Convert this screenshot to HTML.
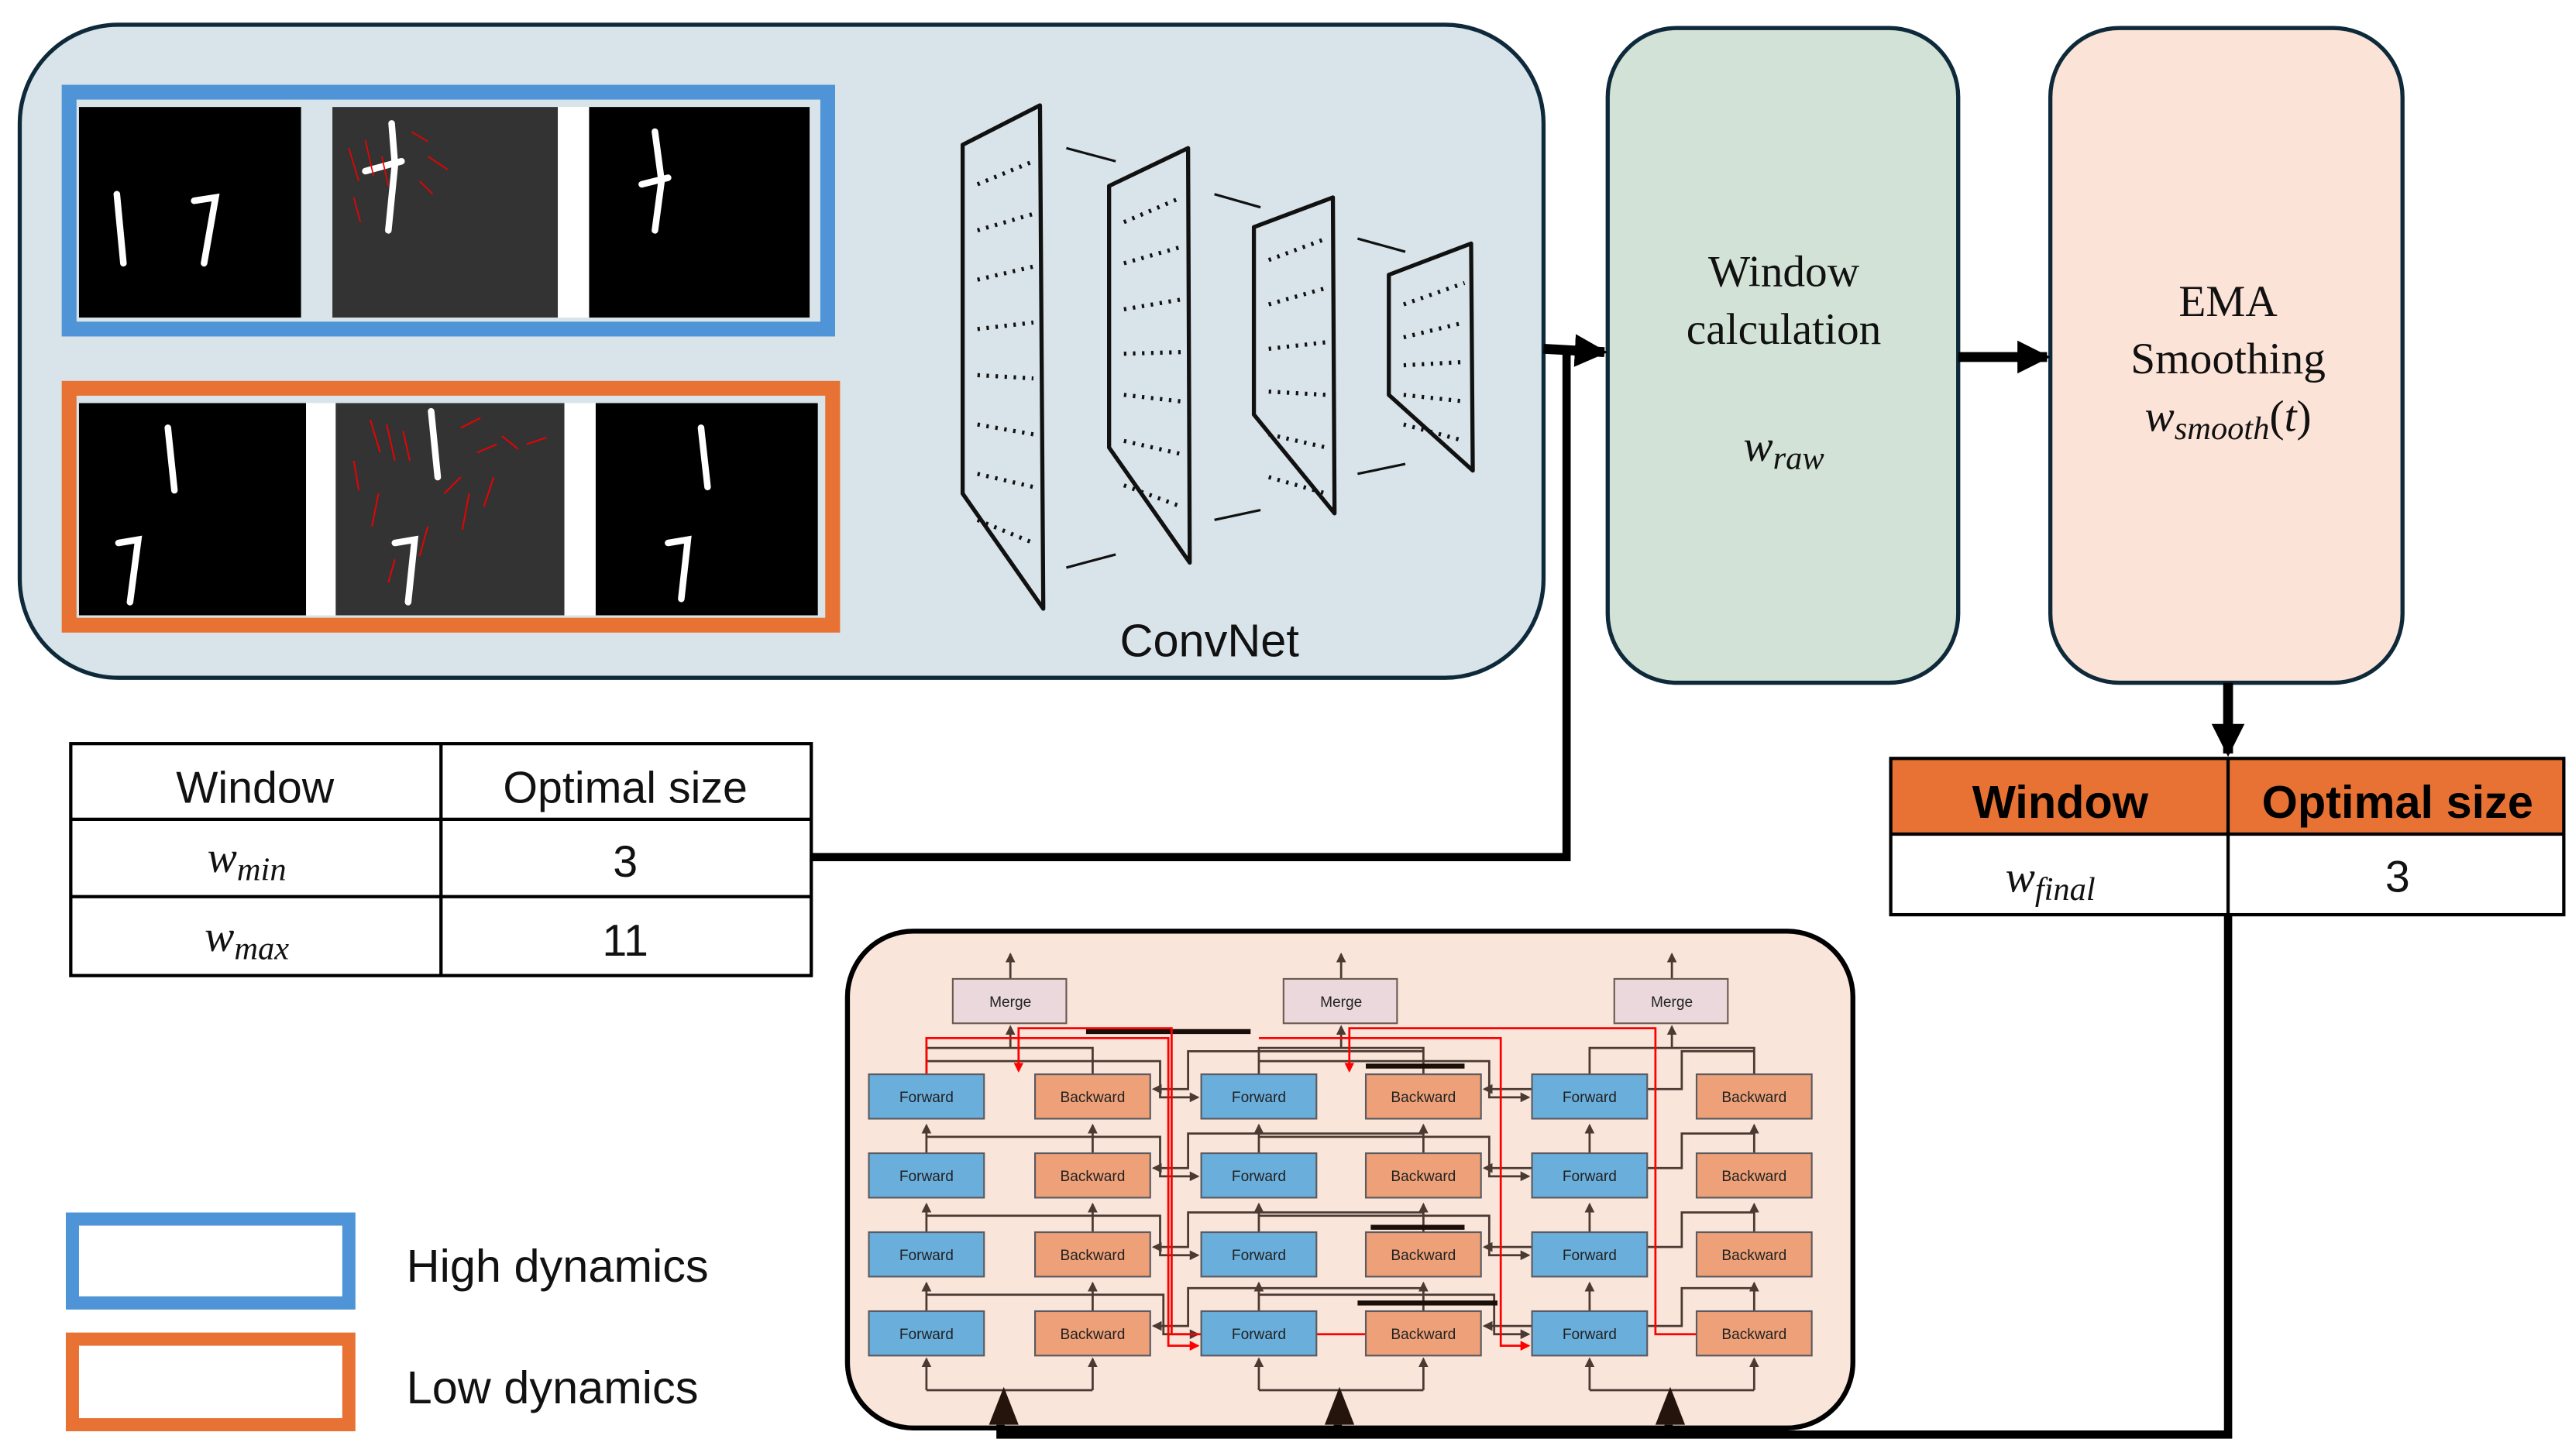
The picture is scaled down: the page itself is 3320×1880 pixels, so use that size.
<!DOCTYPE html>
<html><head><meta charset="utf-8"><style>
html,body{margin:0;padding:0;background:#fff;}
svg{display:block;}
.s{font-family:"Liberation Sans","DejaVu Sans",sans-serif;}
.r{font-family:"Liberation Serif",serif;}
.m{font-family:"Liberation Serif",serif;font-style:italic;}
.bt{font-family:"Liberation Sans",sans-serif;font-size:9px;fill:#222;text-anchor:middle;}
</style></head><body>
<svg width="3320" height="1880" viewBox="0 0 1563 885" xmlns="http://www.w3.org/2000/svg">
<defs>
<marker id="ah" markerWidth="6" markerHeight="6" refX="5" refY="3" orient="auto" markerUnits="userSpaceOnUse"><path d="M0,0 L6,3 L0,6z" fill="#4a3a32"/></marker>
<marker id="ar" markerWidth="6" markerHeight="6" refX="5" refY="3" orient="auto" markerUnits="userSpaceOnUse"><path d="M0,0 L6,3 L0,6z" fill="#f00"/></marker>
<marker id="big" markerWidth="24" markerHeight="24" refX="18" refY="12" orient="auto" markerUnits="userSpaceOnUse"><path d="M0,2 L20,12 L0,22z" fill="#000"/></marker>
</defs>

<rect x="12" y="15" width="926" height="397" rx="60" fill="#d9e4ea" stroke="#0e2a3a" stroke-width="2.5"/>
<rect x="42" y="56" width="461" height="144" fill="none" stroke="#4e94d6" stroke-width="9"/>
<rect x="48" y="65" width="135" height="128" fill="#000"/>
<rect x="183" y="65" width="19" height="128" fill="#d9e4ea"/>
<rect x="202" y="65" width="137" height="128" fill="#333"/>
<rect x="339" y="65" width="19" height="128" fill="#fff"/>
<rect x="358" y="65" width="134" height="128" fill="#000"/>
<g stroke="#fff" stroke-width="4" fill="none" stroke-linecap="round">
<path d="M71,118 L75,160"/><path d="M118,122 L131,120 L124,160"/>
<path d="M238,75 L240,100 L236,140 M222,104 L244,98"/>
<path d="M398,80 L402,110 L398,140 M390,112 L406,108"/>
<path d="M98,263 L104,298"/><path d="M72,332 L82,330 L77,366"/>
<path d="M264,248 L266,290"/><path d="M240,328 L252,326 L248,364"/>
<path d="M424,258 L428,295"/><path d="M406,328 L418,326 L414,362"/>
</g>
<g stroke="#e00" stroke-width="0.8">
<path d="M212,90 l6,20 M222,85 l5,22 M232,95 l4,18 M250,80 l10,6 M260,95 l12,8 M215,120 l4,15 M255,110 l8,8"/>
<path d="M212,250 l6,20 M225,255 l5,22 M240,262 l4,18 M280,260 l12,-6 M290,275 l12,-5 M300,290 l-6,18 M230,300 l-4,20 M285,300 l-4,22 M260,320 l-5,18 M320,270 l12,-4 M240,340 l-4,14"/>
</g>
<rect x="42" y="236" width="464" height="144" fill="none" stroke="#e87234" stroke-width="9"/>
<rect x="48" y="245" width="138" height="129" fill="#000"/>
<rect x="186" y="245" width="18" height="129" fill="#fff"/>
<rect x="204" y="245" width="139" height="129" fill="#333"/>
<rect x="343" y="245" width="19" height="129" fill="#fff"/>
<rect x="362" y="245" width="135" height="129" fill="#000"/>
<g stroke="#fff" stroke-width="4" fill="none" stroke-linecap="round">
<path d="M102,260 L106,298"/><path d="M72,330 L84,328 L79,366"/>
<path d="M262,250 L266,290"/><path d="M240,330 L252,328 L248,366"/>
<path d="M426,260 L430,296"/><path d="M406,330 L418,328 L414,364"/>
</g>
<g stroke="#e00" stroke-width="0.9">
<path d="M225,255 l6,20 M235,258 l5,22 M245,262 l4,18 M280,260 l12,-6 M290,275 l12,-5 M300,290 l-6,18 M230,300 l-4,20 M285,300 l-4,22 M260,320 l-5,18 M320,270 l12,-4 M240,340 l-4,14 M270,300 l10,-10 M305,265 l10,8 M215,280 l3,18"/>
</g>

<g fill="none" stroke="#111" stroke-width="2.5" stroke-linejoin="round">
<path d="M585,88 L632,64 L634,370 L585,300 Z"/>
<path d="M674,113 L722,90 L723,342 L674,272 Z"/>
<path d="M762,138 L810,120 L811,312 L762,252 Z"/>
<path d="M844,167 L894,148 L895,286 L844,240 Z"/>
<path d="M648,90 L678,98 M738,118 L766,126 M825,145 L854,153 M648,345 L678,337 M738,316 L766,310 M825,288 L854,282" stroke-width="1.5"/>
</g>
<g stroke="#111" stroke-width="2.5" stroke-dasharray="1.5 4">
<path d="M594,112 L628,98 M594,140 L628,130 M594,170 L628,162 M594,200 L628,196 M594,228 L628,230 M594,258 L628,264 M594,288 L628,296 M594,316 L628,330"/>
<path d="M683,135 L718,120 M683,160 L718,150 M683,188 L718,182 M683,215 L718,214 M683,240 L718,244 M683,268 L718,276 M683,295 L718,308"/>
<path d="M771,158 L806,145 M771,185 L806,175 M771,212 L806,208 M771,238 L806,240 M771,264 L806,272 M771,290 L806,300"/>
<path d="M853,185 L890,172 M853,205 L890,196 M853,222 L890,220 M853,240 L890,244 M853,258 L890,268"/>
</g>
<text x="735" y="399" class="s" font-size="28" text-anchor="middle" fill="#111">ConvNet</text>

<rect x="977" y="17" width="213" height="398" rx="42" fill="#d3e2d6" stroke="#0e2a3a" stroke-width="2.5"/>
<text x="1084" y="174" class="r" font-size="27" text-anchor="middle" fill="#111">Window</text>
<text x="1084" y="209" class="r" font-size="27" text-anchor="middle" fill="#111">calculation</text>
<text x="1084" y="280" class="m" font-size="27" text-anchor="middle" fill="#111">w<tspan font-size="20" dy="5">raw</tspan></text>
<rect x="1246" y="17" width="214" height="398" rx="42" fill="#fce3d7" stroke="#0e2a3a" stroke-width="2.5"/>
<text x="1354" y="192" class="r" font-size="27" text-anchor="middle" fill="#111">EMA</text>
<text x="1354" y="227" class="r" font-size="27" text-anchor="middle" fill="#111">Smoothing</text>
<text x="1354" y="262" class="m" font-size="27" text-anchor="middle" fill="#111">w<tspan font-size="20" dy="5">smooth</tspan><tspan dy="-5" font-style="normal">(</tspan>t<tspan font-style="normal">)</tspan></text>

<path d="M938,212 L975,214" stroke="#000" stroke-width="6" fill="none" marker-end="url(#big)"/>
<path d="M493,521 L952,521 L952,214" stroke="#000" stroke-width="5" fill="none"/>
<path d="M1190,217 L1244,217" stroke="#000" stroke-width="6" fill="none" marker-end="url(#big)"/>
<path d="M1354,415 L1354,458" stroke="#000" stroke-width="6" fill="none" marker-end="url(#big)"/>

<rect x="1149" y="461" width="409" height="46" fill="#e87234"/>
<rect x="1149" y="461" width="409" height="95" fill="none" stroke="#000" stroke-width="2"/>
<line x1="1149" y1="507" x2="1558" y2="507" stroke="#000" stroke-width="2"/>
<line x1="1354" y1="461" x2="1354" y2="556" stroke="#000" stroke-width="2"/>
<text x="1252" y="497" class="s" font-size="28" font-weight="bold" text-anchor="middle" fill="#000">Window</text>
<text x="1457" y="497" class="s" font-size="28" font-weight="bold" text-anchor="middle" fill="#000">Optimal size</text>
<text x="1246" y="542" class="m" font-size="27" text-anchor="middle" fill="#111">w<tspan font-size="20" dy="5">final</tspan></text>
<text x="1457" y="542" class="s" font-size="27" text-anchor="middle" fill="#111">3</text>

<rect x="43" y="452" width="450" height="141" fill="#fff" stroke="#000" stroke-width="2"/>
<line x1="43" y1="498" x2="493" y2="498" stroke="#000" stroke-width="2"/>
<line x1="43" y1="545" x2="493" y2="545" stroke="#000" stroke-width="2"/>
<line x1="268" y1="452" x2="268" y2="593" stroke="#000" stroke-width="2"/>
<text x="155" y="488" class="s" font-size="27" text-anchor="middle" fill="#111">Window</text>
<text x="380" y="488" class="s" font-size="27" text-anchor="middle" fill="#111">Optimal size</text>
<text x="150" y="530" class="m" font-size="27" text-anchor="middle" fill="#111">w<tspan font-size="20" dy="5">min</tspan></text>
<text x="380" y="533" class="s" font-size="27" text-anchor="middle" fill="#111">3</text>
<text x="150" y="578" class="m" font-size="27" text-anchor="middle" fill="#111">w<tspan font-size="20" dy="5">max</tspan></text>
<text x="380" y="581" class="s" font-size="27" text-anchor="middle" fill="#111">11</text>

<rect x="44" y="741" width="168" height="51" fill="#fff" stroke="#4e94d6" stroke-width="8"/>
<rect x="44" y="814" width="168" height="52" fill="#fff" stroke="#e87234" stroke-width="8"/>
<text x="247" y="779" class="s" font-size="28" fill="#111">High dynamics</text>
<text x="247" y="853" class="s" font-size="28" fill="#111">Low dynamics</text>

<rect x="515" y="566" width="611" height="302" rx="40" fill="#fae5da" stroke="#000" stroke-width="3"/>
<g stroke="#4a3a32" stroke-width="1.3" fill="none">
<path d="M563,845 L664,845 M765,845 L865,845 M966,845 L1066,845"/>
<path d="M563,845 L563,826" marker-end="url(#ah)"/><path d="M664,845 L664,826" marker-end="url(#ah)"/>
<path d="M765,845 L765,826" marker-end="url(#ah)"/><path d="M865,845 L865,826" marker-end="url(#ah)"/>
<path d="M966,845 L966,826" marker-end="url(#ah)"/><path d="M1066,845 L1066,826" marker-end="url(#ah)"/>
<path d="M563,797 L563,780" marker-end="url(#ah)"/><path d="M664,797 L664,780" marker-end="url(#ah)"/><path d="M765,797 L765,780" marker-end="url(#ah)"/><path d="M865,797 L865,780" marker-end="url(#ah)"/><path d="M966,797 L966,780" marker-end="url(#ah)"/><path d="M1066,797 L1066,780" marker-end="url(#ah)"/>
<path d="M563,749 L563,732" marker-end="url(#ah)"/><path d="M664,749 L664,732" marker-end="url(#ah)"/><path d="M765,749 L765,732" marker-end="url(#ah)"/><path d="M865,749 L865,732" marker-end="url(#ah)"/><path d="M966,749 L966,732" marker-end="url(#ah)"/><path d="M1066,749 L1066,732" marker-end="url(#ah)"/>
<path d="M563,701 L563,684" marker-end="url(#ah)"/><path d="M664,701 L664,684" marker-end="url(#ah)"/><path d="M765,701 L765,684" marker-end="url(#ah)"/><path d="M865,701 L865,684" marker-end="url(#ah)"/><path d="M966,701 L966,684" marker-end="url(#ah)"/><path d="M1066,701 L1066,684" marker-end="url(#ah)"/>
<path d="M563,653 L563,637 L664,637 L664,653 M765,653 L765,637 L865,637 L865,653 M966,653 L966,637 L1066,637 L1066,653"/>
<path d="M614,637 L614,624" marker-end="url(#ah)"/><path d="M815,637 L815,624" marker-end="url(#ah)"/><path d="M1016,637 L1016,624" marker-end="url(#ah)"/>
<path d="M614,595 L614,580" marker-end="url(#ah)"/><path d="M815,595 L815,580" marker-end="url(#ah)"/><path d="M1016,595 L1016,580" marker-end="url(#ah)"/>
<path d="M563,645 L705,645 L705,667 L728,667" marker-end="url(#ah)"/>
<path d="M563,691 L705,691 L705,715 L728,715" marker-end="url(#ah)"/>
<path d="M563,739 L705,739 L705,763 L728,763" marker-end="url(#ah)"/>
<path d="M563,787 L707,787 L707,811 L728,811" marker-end="url(#ah)"/>
<path d="M765,645 L905,645 L905,667 L929,667" marker-end="url(#ah)"/>
<path d="M765,691 L905,691 L905,715 L929,715" marker-end="url(#ah)"/>
<path d="M765,739 L905,739 L905,763 L929,763" marker-end="url(#ah)"/>
<path d="M765,787 L908,787 L908,811 L929,811" marker-end="url(#ah)"/>
<path d="M865,639 L722,639 L722,662 L701,662" marker-end="url(#ah)"/>
<path d="M865,689 L722,689 L722,710 L701,710" marker-end="url(#ah)"/>
<path d="M865,737 L722,737 L722,758 L701,758" marker-end="url(#ah)"/>
<path d="M865,783 L722,783 L722,806 L701,806" marker-end="url(#ah)"/>
<path d="M1066,639 L1022,639 L1022,662 L902,662" marker-end="url(#ah)"/>
<path d="M1066,689 L1022,689 L1022,710 L902,710" marker-end="url(#ah)"/>
<path d="M1066,737 L1022,737 L1022,758 L902,758" marker-end="url(#ah)"/>
<path d="M1066,783 L1022,783 L1022,806 L902,806" marker-end="url(#ah)"/>
</g>
<g stroke="#1a0e08" stroke-width="3"><path d="M660,627 L760,627 M830,648 L890,648 M833,727 L890,727 M833,746 L890,746 M825,792 L910,792"/></g>
<g stroke="#f00" stroke-width="1.3" fill="none">
<path d="M563,653 L563,631 L710,631 L710,818 L728,818" marker-end="url(#ar)"/>
<path d="M830,811 L712,811 L712,625 L619,625 L619,651" marker-end="url(#ar)"/>
<path d="M765,631 L912,631 L912,818 L929,818" marker-end="url(#ar)"/>
<path d="M1031,811 L1006,811 L1006,625 L820,625 L820,651" marker-end="url(#ar)"/>
</g>
<g stroke="#6a5a50" stroke-width="1">
<rect x="579" y="595" width="69" height="27" fill="#ead8dc"/>
<rect x="780" y="595" width="69" height="27" fill="#ead8dc"/>
<rect x="981" y="595" width="69" height="27" fill="#ead8dc"/>
</g>
<text x="614" y="612" class="bt">Merge</text><text x="815" y="612" class="bt">Merge</text><text x="1016" y="612" class="bt">Merge</text>
<g stroke="#5a5a60" stroke-width="1">
<rect x="528" y="653" width="70" height="27" fill="#6aaedc"/><rect x="629" y="653" width="70" height="27" fill="#eea078"/>
<rect x="730" y="653" width="70" height="27" fill="#6aaedc"/><rect x="830" y="653" width="70" height="27" fill="#eea078"/>
<rect x="931" y="653" width="70" height="27" fill="#6aaedc"/><rect x="1031" y="653" width="70" height="27" fill="#eea078"/>
<rect x="528" y="701" width="70" height="27" fill="#6aaedc"/><rect x="629" y="701" width="70" height="27" fill="#eea078"/>
<rect x="730" y="701" width="70" height="27" fill="#6aaedc"/><rect x="830" y="701" width="70" height="27" fill="#eea078"/>
<rect x="931" y="701" width="70" height="27" fill="#6aaedc"/><rect x="1031" y="701" width="70" height="27" fill="#eea078"/>
<rect x="528" y="749" width="70" height="27" fill="#6aaedc"/><rect x="629" y="749" width="70" height="27" fill="#eea078"/>
<rect x="730" y="749" width="70" height="27" fill="#6aaedc"/><rect x="830" y="749" width="70" height="27" fill="#eea078"/>
<rect x="931" y="749" width="70" height="27" fill="#6aaedc"/><rect x="1031" y="749" width="70" height="27" fill="#eea078"/>
<rect x="528" y="797" width="70" height="27" fill="#6aaedc"/><rect x="629" y="797" width="70" height="27" fill="#eea078"/>
<rect x="730" y="797" width="70" height="27" fill="#6aaedc"/><rect x="830" y="797" width="70" height="27" fill="#eea078"/>
<rect x="931" y="797" width="70" height="27" fill="#6aaedc"/><rect x="1031" y="797" width="70" height="27" fill="#eea078"/>
</g>
<text x="563" y="670" class="bt">Forward</text><text x="664" y="670" class="bt">Backward</text><text x="765" y="670" class="bt">Forward</text><text x="865" y="670" class="bt">Backward</text><text x="966" y="670" class="bt">Forward</text><text x="1066" y="670" class="bt">Backward</text>
<text x="563" y="718" class="bt">Forward</text><text x="664" y="718" class="bt">Backward</text><text x="765" y="718" class="bt">Forward</text><text x="865" y="718" class="bt">Backward</text><text x="966" y="718" class="bt">Forward</text><text x="1066" y="718" class="bt">Backward</text>
<text x="563" y="766" class="bt">Forward</text><text x="664" y="766" class="bt">Backward</text><text x="765" y="766" class="bt">Forward</text><text x="865" y="766" class="bt">Backward</text><text x="966" y="766" class="bt">Forward</text><text x="1066" y="766" class="bt">Backward</text>
<text x="563" y="814" class="bt">Forward</text><text x="664" y="814" class="bt">Backward</text><text x="765" y="814" class="bt">Forward</text><text x="865" y="814" class="bt">Backward</text><text x="966" y="814" class="bt">Forward</text><text x="1066" y="814" class="bt">Backward</text>
<path d="M1354,556 L1354,872 L608,872 L608,866" stroke="#000" stroke-width="5" fill="none"/>
<path d="M813,872 L813,866 M1014,872 L1014,866" stroke="#000" stroke-width="5"/>
<path d="M601,866 L610,843 L619,866 Z M805,866 L814,843 L823,866 Z M1006,866 L1015,843 L1024,866 Z" fill="#24140c"/>
</svg>
</body></html>
